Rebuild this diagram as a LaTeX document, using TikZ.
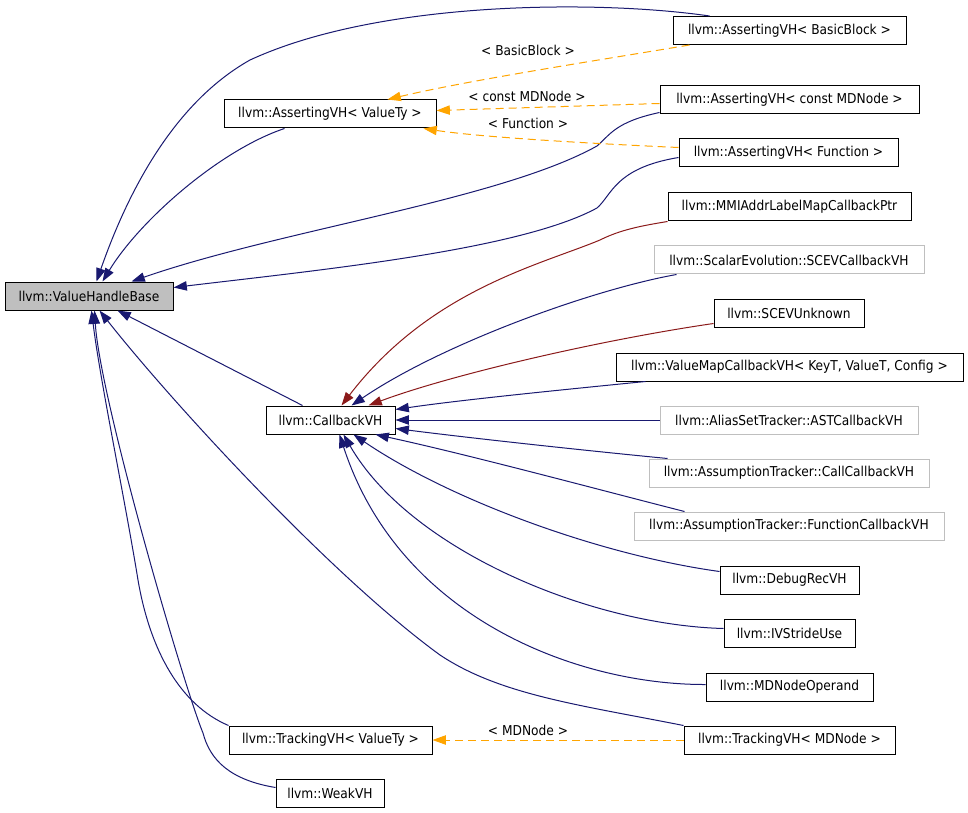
\documentclass[tikz,border=0pt]{standalone}
\usepackage{fontspec}
\setmainfont{DejaVu Sans Condensed}
\usetikzlibrary{arrows.meta,calc}
\definecolor{navy}{HTML}{191970}
\definecolor{fbred}{HTML}{8B1A1A}
\definecolor{org}{HTML}{FFA500}
\definecolor{gb}{HTML}{BFBFBF}
\begin{document}
\begin{tikzpicture}[x=0.75pt,y=-0.75pt,
  box/.style={draw=black, line width=0.75pt, fill=white, minimum height=21pt, inner sep=0pt, font=\fontsize{10.2}{12}\selectfont},
  gbox/.style={box, draw=gb},
  inh/.style={navy, line width=0.75pt, -{Triangle[length=10pt,width=7pt]}},
  inhr/.style={fbred, line width=0.75pt, -{Triangle[length=10pt,width=7pt]}},
  tmpl/.style={org, line width=0.75pt, dash pattern=on 6pt off 3.75pt, -{Triangle[length=10pt,width=7pt]}},
  lbl/.style={inner sep=0pt, font=\fontsize{10.2}{12}\selectfont}]
\fill[white] (0,0) rectangle (968,813);
\useasboundingbox (0,0) rectangle (968,813);

\node[box, fill=gb, minimum width=126pt] (vhb) at (89,296) {llvm::ValueHandleBase};
\node[box, minimum width=159pt] (avt) at (330,114) {llvm::AssertingVH< ValueTy >};
\node[box, minimum width=174.75pt] (abb) at (789.5,30.5) {llvm::AssertingVH< BasicBlock >};
\node[box, minimum width=194.25pt] (amd) at (789.5,100) {llvm::AssertingVH< const MDNode >};
\node[box, minimum width=164.25pt] (afn) at (788.5,153) {llvm::AssertingVH< Function >};
\node[box, minimum width=182.25pt] (mmi) at (789.5,207) {llvm::MMIAddrLabelMapCallbackPtr};
\node[gbox, minimum width=202.5pt] (scb) at (789,260) {llvm::ScalarEvolution::SCEVCallbackVH};
\node[box, minimum width=112.5pt] (scu) at (789,313) {llvm::SCEVUnknown};
\node[box, minimum width=260.25pt] (vmc) at (789.5,367) {llvm::ValueMapCallbackVH< KeyT, ValueT, Config >};
\node[gbox, minimum width=193.5pt] (ast) at (789,420) {llvm::AliasSetTracker::ASTCallbackVH};
\node[gbox, minimum width=210pt] (acc) at (789,473) {llvm::AssumptionTracker::CallCallbackVH};
\node[gbox, minimum width=232.5pt] (afc) at (789,526) {llvm::AssumptionTracker::FunctionCallbackVH};
\node[box, minimum width=104.25pt] (drv) at (789.5,580) {llvm::DebugRecVH};
\node[box, minimum width=98.25pt] (ivs) at (789.5,633) {llvm::IVStrideUse};
\node[box, minimum width=125.25pt] (mdo) at (789.5,687) {llvm::MDNodeOperand};
\node[box, minimum width=158.25pt] (tmd) at (789.5,740) {llvm::TrackingVH< MDNode >};
\node[box, minimum width=96.75pt] (cvh) at (330.5,420) {llvm::CallbackVH};
\node[box, minimum width=152.25pt] (tvt) at (330.5,740) {llvm::TrackingVH< ValueTy >};
\node[box, minimum width=81pt] (wvh) at (330,793) {llvm::WeakVH};

% to ValueHandleBase
\draw[inh] ($(abb.north west)+(37,0)$) .. controls (600,0) and (380,0) .. (250,60) .. controls (170,105) and (125,200) .. ($(vhb.north west)+(92,0)$);
\draw[inh] ($(avt.south west)+(61,0)$) .. controls (220,150) and (140,220) .. ($(vhb.north west)+(98,0)$);
\draw[inh] ($(amd.south west)+(0,-2)$) .. controls (615,122) and (610,135) .. (597,146) .. controls (500,200) and (280,230) .. ($(vhb.north west)+(127,0)$);
\draw[inh] ($(afn.north west)+(0,19)$) .. controls (615,168) and (612,195) .. (597,208) .. controls (520,250) and (320,270) .. ($(vhb.north east)+(0,6)$);
\draw[inh] ($(cvh.north west)+(37,0)$) -- ($(vhb.south west)+(113,0)$);
\draw[inh] (tmd.north west) .. controls (580,705) and (500,695) .. (440,655) .. controls (330,575) and (170,400) .. ($(vhb.south west)+(95,0)$);
\draw[inh] (tvt.north west) .. controls (180,705) and (150,650) .. (138,580) .. controls (125,500) and (100,380) .. ($(vhb.south west)+(87,0)$);
\draw[inh] ($(wvh.north west)+(0,9)$) .. controls (230,780) and (210,760) .. (203,733) .. controls (185,690) and (100,400) .. ($(vhb.south west)+(90,0)$);

% template instances
\draw[tmpl] ($(abb.south west)+(17,0)$) .. controls (600,60) and (470,80) .. ($(avt.north west)+(164,0)$);
\node[lbl] (l1) at (528,50) {< BasicBlock >};
\draw[tmpl] ($(amd.north west)+(0,18)$) -- ($(avt.north east)+(0,11)$);
\node[lbl] (l2) at (527,96) {< const MDNode >};
\draw[tmpl] ($(afn.north west)+(0,9)$) .. controls (580,143) and (480,137) .. ($(avt.south west)+(200,0)$);
\node[lbl] (l3) at (528,123) {< Function >};
\draw[tmpl] (tmd.west) -- (tvt.east);
\node[lbl] (l4) at (528,730) {< MDNode >};

% to CallbackVH
\draw[inhr] (mmi.south west) .. controls (640,226) and (620,230) .. (600,240) .. controls (540,265) and (430,290) .. ($(cvh.north west)+(76,0)$);
\draw[inh] ($(scb.south west)+(23,0)$) .. controls (590,290) and (440,345) .. ($(cvh.north west)+(86,0)$);
\draw[inhr] ($(scu.south west)+(0,-4)$) .. controls (600,340) and (450,375) .. ($(cvh.north west)+(103,0)$);
\draw[inh] ($(vmc.south west)+(30,0)$) .. controls (560,390) and (460,400) .. ($(cvh.north east)+(0,4)$);
\draw[inh] (ast.west) -- (cvh.east);
\draw[inh] ($(acc.north west)+(19,0)$) .. controls (580,450) and (470,438) .. ($(cvh.south east)+(0,-6)$);
\draw[inh] ($(afc.north west)+(51,0)$) .. controls (600,490) and (470,455) .. ($(cvh.south west)+(110,0)$);
\draw[inh] ($(drv.north west)+(0,6)$) .. controls (600,555) and (450,500) .. ($(cvh.south west)+(88,0)$);
\draw[inh] ($(ivs.north west)+(0,10)$) .. controls (590,625) and (410,550) .. ($(cvh.south west)+(78,0)$);
\draw[inh] ($(mdo.north west)+(0,12)$) .. controls (580,685) and (400,620) .. ($(cvh.south west)+(74,0)$);
\end{tikzpicture}
\end{document}
